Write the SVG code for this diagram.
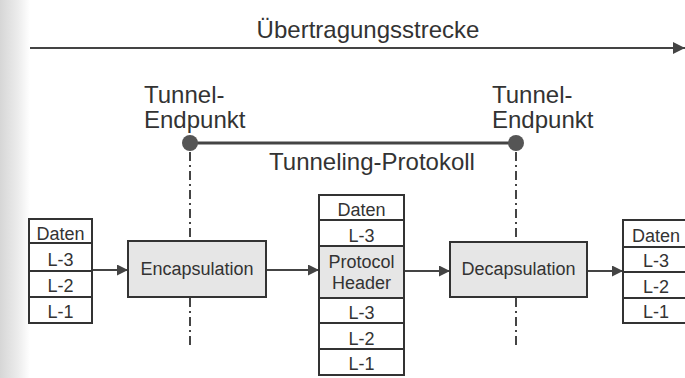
<svg xmlns="http://www.w3.org/2000/svg" width="685" height="378" viewBox="0 0 685 378">
<defs>
<linearGradient id="shade" x1="0" y1="0" x2="1" y2="0">
<stop offset="0" stop-color="#d6d6d6"/><stop offset="0.6" stop-color="#ececec"/><stop offset="1" stop-color="#ffffff"/>
</linearGradient>
<marker id="ah" viewBox="0 0 10 10" refX="10" refY="5" markerWidth="11" markerHeight="11" markerUnits="userSpaceOnUse" orient="auto">
<path d="M0,0 L10,5 L0,10 z" fill="#444"/>
</marker>
<marker id="ah2" viewBox="0 0 12 12" refX="12" refY="6" markerWidth="12" markerHeight="12" markerUnits="userSpaceOnUse" orient="auto">
<path d="M0,0 L12,6 L0,12 z" fill="#444"/>
</marker>
</defs>
<style>
text{font-family:"Liberation Sans",Arial,sans-serif;fill:#333}
.big{font-size:24px}
.cell{font-size:18px;text-anchor:middle}
.box{fill:#e6e6e6;stroke:#333;stroke-width:2}
.c{fill:#fff;stroke:#333;stroke-width:2}
.hd{fill:#e6e6e6;stroke:#333;stroke-width:2}
.con{stroke:#444;stroke-width:2;fill:none}
.dd{stroke:#444;stroke-width:2;stroke-dasharray:9,4,2,4;fill:none}
</style>
<rect width="685" height="378" fill="#fff"/>
<rect x="0" y="0" width="30" height="378" fill="url(#shade)"/>

<g id="title">
<text class="big" x="368" y="38" text-anchor="middle">Übertragungsstrecke</text>
</g>

<g id="connectors">
<line class="con" x1="30" y1="48" x2="685" y2="48" marker-end="url(#ah2)"/>
<line x1="190" y1="143" x2="516" y2="143" stroke="#444" stroke-width="3"/>
<line class="dd" x1="190" y1="152" x2="190" y2="240"/>
<line class="dd" x1="190" y1="298" x2="190" y2="348"/>
<line class="dd" x1="516" y1="152" x2="516" y2="242"/>
<line class="dd" x1="516" y1="298" x2="516" y2="348"/>
<line class="con" x1="92" y1="270" x2="128" y2="270" marker-end="url(#ah)"/>
<line class="con" x1="266" y1="270" x2="319" y2="270" marker-end="url(#ah)"/>
<line class="con" x1="404" y1="271" x2="450" y2="271" marker-end="url(#ah)"/>
<line class="con" x1="587" y1="271" x2="623" y2="271" marker-end="url(#ah)"/>
</g>

<g id="endpoint-left">
<text class="big" x="144" y="103">Tunnel-</text>
<text class="big" x="144" y="128">Endpunkt</text>
<circle cx="190" cy="143" r="8" fill="#555"/>
</g>
<g id="endpoint-right">
<text class="big" x="492" y="103">Tunnel-</text>
<text class="big" x="492" y="128">Endpunkt</text>
<circle cx="516" cy="143" r="8" fill="#555"/>
</g>
<g id="protocol-label">
<text class="big" x="372" y="170" text-anchor="middle">Tunneling-Protokoll</text>
</g>

<g id="stack-left">
<rect class="c" x="29" y="219" width="63" height="24"/>
<rect class="c" x="29" y="243" width="63" height="28"/>
<rect class="c" x="29" y="271" width="63" height="26"/>
<rect class="c" x="29" y="297" width="63" height="26"/>
<text class="cell" x="60.5" y="240">Daten</text>
<text class="cell" x="60.5" y="266">L-3</text>
<text class="cell" x="60.5" y="292">L-2</text>
<text class="cell" x="60.5" y="318">L-1</text>
</g>

<g id="encapsulation">
<rect class="box" x="128" y="241" width="138" height="56"/>
<text class="cell" x="197" y="275">Encapsulation</text>
</g>

<g id="stack-middle">
<rect class="c" x="319" y="195" width="85" height="25"/>
<rect class="c" x="319" y="220" width="85" height="26"/>
<rect class="hd" x="319" y="246" width="85" height="52"/>
<rect class="c" x="319" y="298" width="85" height="25"/>
<rect class="c" x="319" y="323" width="85" height="26"/>
<rect class="c" x="319" y="349" width="85" height="26"/>
<text class="cell" x="361.5" y="216">Daten</text>
<text class="cell" x="361.5" y="242">L-3</text>
<text class="cell" x="361.5" y="268">Protocol</text>
<text class="cell" x="361.5" y="289">Header</text>
<text class="cell" x="361.5" y="319">L-3</text>
<text class="cell" x="361.5" y="345">L-2</text>
<text class="cell" x="361.5" y="370">L-1</text>
</g>

<g id="decapsulation">
<rect class="box" x="450" y="242" width="137" height="55"/>
<text class="cell" x="518.5" y="275">Decapsulation</text>
</g>

<g id="stack-right">
<rect class="c" x="623" y="220" width="70" height="27"/>
<rect class="c" x="623" y="247" width="70" height="25"/>
<rect class="c" x="623" y="272" width="70" height="26"/>
<rect class="c" x="623" y="298" width="70" height="25"/>
<text class="cell" x="656" y="242">Daten</text>
<text class="cell" x="656" y="267">L-3</text>
<text class="cell" x="656" y="293">L-2</text>
<text class="cell" x="656" y="318">L-1</text>
</g>
</svg>
